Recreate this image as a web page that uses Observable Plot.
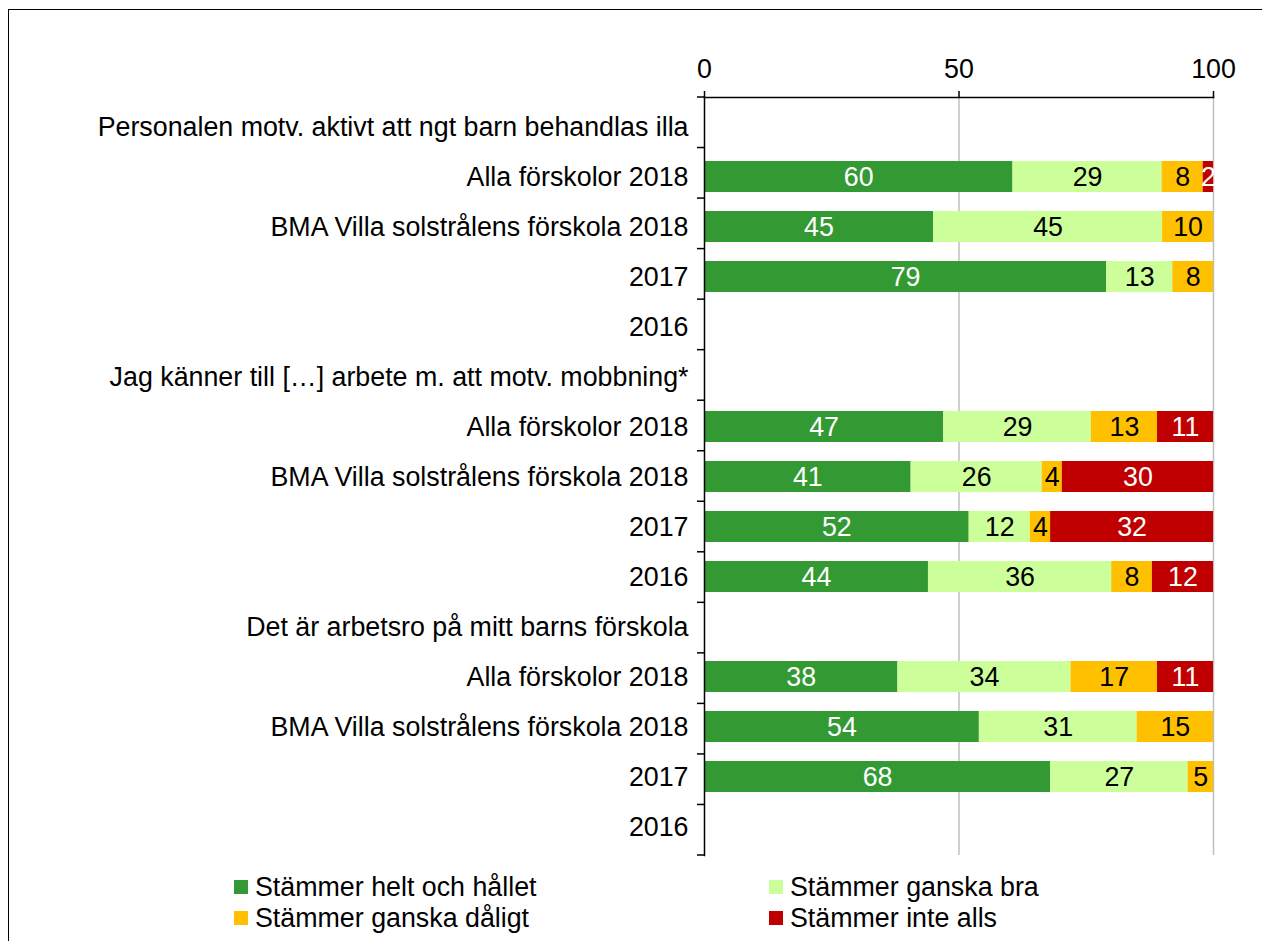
<!DOCTYPE html>
<html>
<head>
<meta charset="utf-8">
<script src="https://cdn.jsdelivr.net/npm/d3@7"></script>
<script src="https://cdn.jsdelivr.net/npm/@observablehq/plot@0.6"></script>
<style>
  html, body { margin: 0; padding: 0; background: #fff; overflow: hidden; }
  #wrap { position: relative; width: 1262px; height: 941px; overflow: hidden; font-family: "Liberation Sans", Arial, sans-serif; }
  #border { position: absolute; left: 8px; top: 9px; width: 1400px; height: 1100px; border: 1.5px solid #000; box-sizing: border-box; }
  #chart { position: absolute; left: 0; top: 0; }
  .leg { position: absolute; display: flex; align-items: center; height: 30px; font-size: 26.8px; color: #000; white-space: nowrap; }
  .sw { width: 14px; height: 14px; margin-right: 7px; flex: none; }
</style>
</head>
<body>
<div id="wrap">
  <div id="border"></div>
  <div id="chart"></div>
  <div id="legend"></div>
</div>
<script>
// ---- data ----
const rowLabels = [
  "Personalen motv. aktivt att ngt barn behandlas illa",
  "Alla förskolor 2018",
  "BMA Villa solstrålens förskola 2018",
  "2017",
  "2016",
  "Jag känner till […] arbete m. att motv. mobbning*",
  "Alla förskolor 2018",
  "BMA Villa solstrålens förskola 2018",
  "2017",
  "2016",
  "Det är arbetsro på mitt barns förskola",
  "Alla förskolor 2018",
  "BMA Villa solstrålens förskola 2018",
  "2017",
  "2016"
];
const seriesNames = ["Stämmer helt och hållet", "Stämmer ganska bra", "Stämmer ganska dåligt", "Stämmer inte alls"];
const helt      = [null, 60, 45, 79, null, null, 47, 41, 52, 44, null, 38, 54, 68, null];
const ganskaBra = [null, 29, 45, 13, null, null, 29, 26, 12, 36, null, 34, 31, 27, null];
const daligt    = [null,  8, 10,  8, null, null, 13,  4,  4,  8, null, 17, 15,  5, null];
const inteAlls  = [null,  2, null, null, null, null, 11, 30, 32, 12, null, 11, null, null, null];
const xTicks = [0, 50, 100];

const seriesColors = ["#339933", "#CCFF99", "#FFC000", "#C00000"];
const labelColors  = ["#FFFFFF", "#000000", "#000000", "#FFFFFF"];

// ---- build table ----
const seriesValues = [helt, ganskaBra, daligt, inteAlls];
const table = [];
rowLabels.forEach((lab, i) => {
  seriesValues.forEach((vals, s) => {
    if (vals[i] != null) table.push({row: i, s, series: seriesNames[s], value: vals[i]});
  });
});
const rowIndex = rowLabels.map((_, i) => i);

const W = 1262, H = 870;
const mTop = 97, mBottom = H - 855, mLeft = 704, mRight = W - 1213;
const pad = 0.38;
const FS = 26.8;

function boundaryTicks(...args) {
  const dims = args.find(a => a && typeof a === "object" && a.marginTop !== undefined && a.width !== undefined);
  const top = dims.marginTop, bottom = dims.height - dims.marginBottom, left = dims.marginLeft;
  const n = rowLabels.length;
  const step = (bottom - top) / n;
  const g = d3.create("svg:g").attr("stroke", "#000").attr("stroke-width", 1.5);
  for (let k = 0; k <= n; k++) {
    const y = top + k * step;
    g.append("line").attr("x1", left - 7).attr("x2", left).attr("y1", y).attr("y2", y);
  }
  return g.node();
}

const chart = Plot.plot({
  width: W,
  height: H,
  marginTop: mTop,
  marginBottom: mBottom,
  marginLeft: mLeft,
  marginRight: mRight,
  style: {fontFamily: "'Liberation Sans', Arial, sans-serif", fontSize: FS + "px", color: "#000", background: "transparent", overflow: "visible"},
  x: {domain: [0, 1], axis: null},
  y: {type: "band", domain: rowIndex, paddingInner: pad, paddingOuter: pad / 2, axis: null},
  color: {type: "identity"},
  marks: [
    Plot.ruleX(xTicks.slice(1).map(d => d / 100), {stroke: "#BFBFBF", strokeWidth: 1.5}),
    Plot.barX(table, Plot.stackX({
      x: "value", y: "row", z: "series", offset: "normalize",
      fill: d => seriesColors[d.s]
    })),
    Plot.text(table, Plot.stackX({
      x: "value", y: "row", z: "series", offset: "normalize",
      text: d => String(d.value),
      fill: d => labelColors[d.s],
      fontSize: FS
    })),
    Plot.axisX({
      anchor: "top",
      ticks: xTicks.map(d => d / 100),
      tickFormat: d => String(Math.round(d * 100)),
      tickSize: 7,
      tickPadding: 13,
      strokeWidth: 1.5,
      label: null
    }),
    Plot.axisY({
      anchor: "left",
      tickSize: 0,
      tickPadding: 16,
      tickFormat: i => rowLabels[i],
      label: null
    }),
    Plot.frame({anchor: "top", stroke: "#000", strokeWidth: 1.5}),
    Plot.frame({anchor: "left", stroke: "#000", strokeWidth: 1.5}),
    boundaryTicks
  ]
});
document.getElementById("chart").appendChild(chart);

// ---- legend ----
const legendPos = [
  {left: 234, top: 872},
  {left: 769, top: 872},
  {left: 234, top: 903},
  {left: 769, top: 903}
];
const legend = document.getElementById("legend");
seriesNames.forEach((name, s) => {
  const item = document.createElement("div");
  item.className = "leg";
  item.style.left = legendPos[s].left + "px";
  item.style.top = legendPos[s].top + "px";
  const sw = document.createElement("span");
  sw.className = "sw";
  sw.style.background = seriesColors[s];
  const tx = document.createElement("span");
  tx.textContent = name;
  item.appendChild(sw);
  item.appendChild(tx);
  legend.appendChild(item);
});
</script>
</body>
</html>
